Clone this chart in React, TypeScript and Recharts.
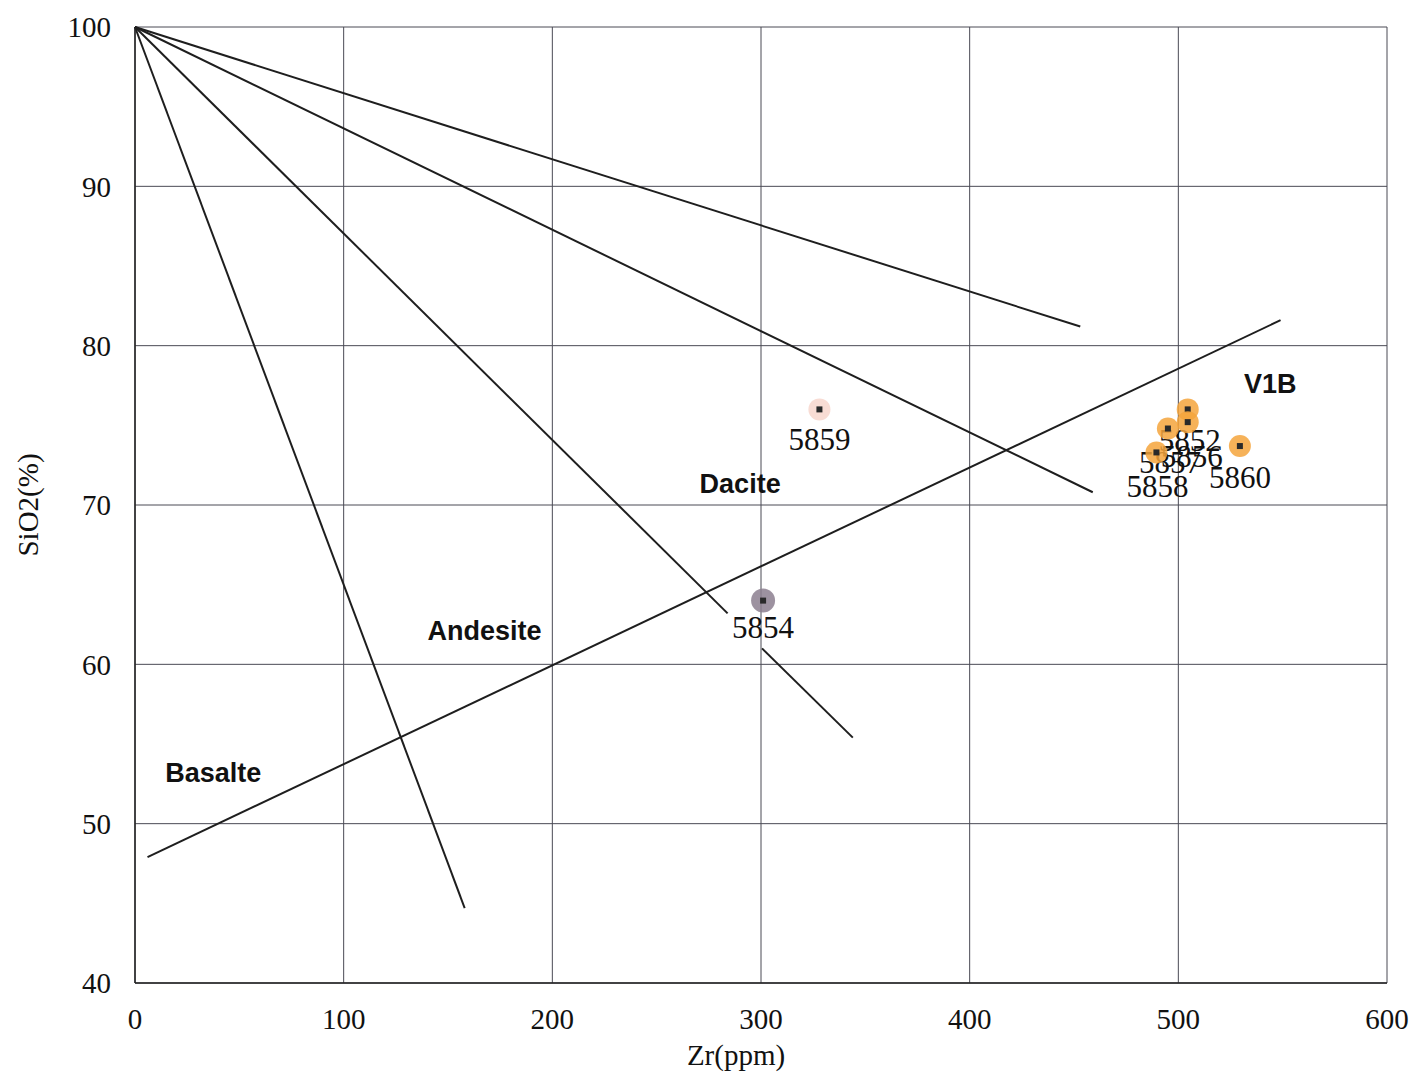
import {
  ScatterChart,
  Scatter,
  XAxis,
  YAxis,
  CartesianGrid,
  ReferenceLine,
} from "recharts";

// Zr (ppm) vs SiO2 (%) classification diagram
const xTicks = [0, 100, 200, 300, 400, 500, 600];
const yTicks = [40, 50, 60, 70, 80, 90, 100];

// field boundaries: [x1, y1, x2, y2]
const boundaries = [
  [0, 100, 453, 81.2],
  [0, 100, 459, 70.8],
  [0, 100, 284, 63.2],
  [300.5, 61.0, 344, 55.4],
  [0, 100, 158, 44.7],
  [6, 47.9, 549, 81.6],
];

// rock field names
const fieldNames = ["Dacite", "Andesite", "Basalte", "V1B"];
const fieldZr = [290, 167.5, 37.5, 544];
const fieldSiO2 = [71.3, 62.1, 53.2, 77.6];

// samples
const sampleNames = ["5859", "5854", "5852", "5856", "5857", "5858", "5860"];
const sampleZr = [328, 301, 504.5, 504.5, 495, 489.5, 529.5];
const sampleSiO2 = [76.0, 64.0, 76.0, 75.2, 74.8, 73.3, 73.7];
const sampleHalo = ["#f7d6cc", "#8c7f8f", "#f4a53c", "#f4a53c", "#f4a53c", "#f4a53c", "#f4a53c"];
const sampleLabelDx = [0, 0, 2, 4, 2, 1, 0];
const sampleLabelDy = [30, 27, 31, 34, 34, 34, 31];

const fields = fieldNames.map((name, i) => ({ name, x: fieldZr[i], y: fieldSiO2[i] }));
const samples = sampleNames.map((name, i) => ({
  name,
  x: sampleZr[i],
  y: sampleSiO2[i],
  halo: sampleHalo[i],
  dx: sampleLabelDx[i],
  dy: sampleLabelDy[i],
}));

const serif = "'Liberation Serif', 'Times New Roman', serif";
const sans = "'Liberation Sans', Arial, sans-serif";

function FieldLabel(props: any) {
  const { cx, cy, payload } = props;
  return (
    <text
      x={cx}
      y={cy}
      textAnchor="middle"
      dominantBaseline="central"
      fontFamily={sans}
      fontWeight="bold"
      fontSize={27}
      fill="#111"
    >
      {payload.name}
    </text>
  );
}

function SampleMark(props: any) {
  const { cx, cy, payload } = props;
  const big = payload.name === "5854";
  return (
    <g>
      <circle cx={cx} cy={cy} r={big ? 12 : 11} fill={payload.halo} opacity={0.85} />
      <rect x={cx - 3} y={cy - 3} width={6} height={6} fill="#2a2a2a" />
      <text
        x={cx + payload.dx}
        y={cy + payload.dy}
        textAnchor="middle"
        dominantBaseline="central"
        fontFamily={serif}
        fontSize={31}
        fill="#111"
      >
        {payload.name}
      </text>
    </g>
  );
}

export default function App() {
  return (
    <div style={{ position: "absolute", left: 0, top: 0, background: "#fff" }}>
      <ScatterChart
        width={1419}
        height={1078}
        margin={{ top: 27, right: 32, bottom: 0, left: 60 }}
      >
        <CartesianGrid stroke="#4a4a55" strokeWidth={1} />
        <XAxis
          type="number"
          dataKey="x"
          domain={[0, 600]}
          ticks={xTicks}
          height={95}
          tickLine={false}
          tickMargin={19}
          axisLine={{ stroke: "#222", strokeWidth: 1.5 }}
          tick={{ fontFamily: serif, fontSize: 29, fill: "#111" }}
          label={{
            value: "Zr(ppm)",
            position: "insideBottom",
            offset: 13,
            dx: -25,
            style: { fontFamily: serif, fontSize: 29, fill: "#111" },
          }}
        />
        <YAxis
          type="number"
          dataKey="y"
          domain={[40, 100]}
          ticks={yTicks}
          width={75}
          tickLine={false}
          tickMargin={18}
          axisLine={{ stroke: "#222", strokeWidth: 1.5 }}
          tick={{ fontFamily: serif, fontSize: 29, fill: "#111" }}
          label={{
            value: "SiO2(%)",
            angle: -90,
            position: "insideLeft",
            offset: -32,
            style: { fontFamily: serif, fontSize: 29, fill: "#111", textAnchor: "middle" },
          }}
        />
        {boundaries.map(([x1, y1, x2, y2], i) => (
          <ReferenceLine
            key={i}
            segment={[
              { x: x1, y: y1 },
              { x: x2, y: y2 },
            ]}
            stroke="#1e1e1e"
            strokeWidth={2}
          />
        ))}
        <Scatter data={fields} shape={FieldLabel} isAnimationActive={false} />
        <Scatter data={samples} shape={SampleMark} isAnimationActive={false} />
      </ScatterChart>
    </div>
  );
}
